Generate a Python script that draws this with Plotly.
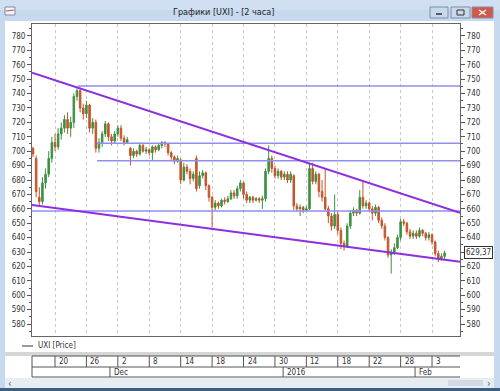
import plotly.graph_objects as go

W, H = 500, 391

# ---------------- data ----------------
bar_index = list(range(132))
opens = [702,695,668,665,678,684,695,706,703,712,716,722,716,720,738,742,730,726,732,716,
         720,702,706,712,719,710,707,712,716,709,706,702,697,700,698,704,700,701,699,703,
         701,704,706,705,699,696,693,694,680,689,686,681,695,676,683,685,676,668,661,664,
         662,666,665,667,671,669,674,678,670,666,668,666,667,666,667,686,695,688,683,686,
         682,684,680,683,662,660,661,659,660,688,679,684,672,668,660,655,648,656,645,636,
         634,648,657,659,657,668,662,664,660,657,661,652,648,640,628,630,633,640,651,650,
         644,641,643,641,645,643,640,642,637,629,625,627]
highs = [703,697,675,682,688,700,710,712,716,720,725,727,724,740,745,744,733,735,733,723,
         722,709,714,721,720,712,714,718,718,711,710,703,702,701,706,705,703,702,704,704,
         705,707,707,706,700,697,697,695,692,691,688,686,697,686,687,686,677,669,666,665,
         667,668,669,673,673,676,680,679,672,669,669,668,668,669,688,704,697,690,688,687,
         686,686,686,684,664,663,662,662,692,692,686,685,680,688,662,657,670,658,647,638,
         650,659,661,660,673,679,666,665,662,663,662,654,650,641,632,636,642,653,653,651,
         646,645,645,647,646,644,644,643,638,631,629,631]
lows = [696,668,662,663,674,682,692,700,701,708,713,712,710,716,735,727,722,723,713,712,
        699,699,703,710,707,704,705,710,707,704,705,690,695,696,697,699,698,697,694,699,
        700,702,703,697,694,691,692,677,679,684,677,679,672,674,681,673,665,647,659,660,
        661,663,664,666,667,667,672,667,664,664,664,665,664,660,665,684,685,681,681,680,
        680,678,678,659,658,655,657,658,659,677,677,668,665,658,650,645,646,642,632,631,
        633,646,655,655,656,660,660,658,652,655,650,646,638,626,615,628,632,638,648,642,
        639,639,639,640,641,638,638,635,627,623,624,625]
closes = [698,672,665,678,684,695,706,703,712,716,722,716,720,738,742,730,726,732,716,720,
          702,706,712,719,710,707,712,716,709,706,708,697,700,698,704,700,701,699,703,701,
          704,706,705,699,696,693,695,680,689,686,681,684,674,683,685,676,668,661,664,662,
          666,665,667,671,669,674,678,670,666,668,666,667,666,667,686,695,688,683,686,682,
          684,680,684,662,660,661,659,660,688,679,684,672,668,660,655,648,656,645,636,634,
          648,657,659,657,668,662,664,660,657,661,652,648,640,628,630,633,640,651,650,644,
          641,643,641,645,643,640,642,637,629,625,627,629.37]

last_price = 629.37
last_label = "629,37"

# trend lines (bar index, price)
upper_trend_x = [-0.32, 135.9]
upper_trend_y = [754.5, 657.3]
lower_trend_x = [-0.32, 135.9]
lower_trend_y = [662.6, 623.2]

# horizontal levels: (price, start bar index)
level_prices = [745.3, 705.5, 693.3, 658.5]
level_starts = [14.3, 20.4, 20.4, -0.32]

# price axis ticks
price_ticks = list(range(580, 790, 10))

# date scale
day_tick_idx = [7, 17, 27, 37, 47, 57, 67, 77, 87, 97, 107, 117, 127]
day_tick_labels = ["20", "26", "2", "8", "14", "18", "24", "30", "12", "18", "22", "28", "3"]
month_idx = [24.5, 79.6, 121.6]
month_labels = ["Dec", "2016", "Feb"]

y_min, y_max = 571.7, 788.3
x_min, x_max = -0.32, 135.9

title_text = "Графики [UXI] - [2 часа]"
legend_text = "UXI [Price]"

# ---------------- layout helpers ----------------
ML, MR, MT, MB = 32, 40, 24, 55
PW = W - ML - MR
PH = H - MT - MB


def X(px):
    return (px - ML) / PW


def Y(py):
    return (H - MB - py) / PH


FONT = "Liberation Sans Narrow, DejaVu Sans Condensed, Liberation Sans, sans-serif"
GREEN = "#3d9140"
RED = "#c4552b"

fig = go.Figure()

fig.add_trace(go.Candlestick(
    x=bar_index, open=opens, high=highs, low=lows, close=closes,
    increasing=dict(line=dict(color=GREEN, width=1), fillcolor=GREEN),
    decreasing=dict(line=dict(color=RED, width=1), fillcolor=RED),
    whiskerwidth=0, hoverinfo="skip", showlegend=False,
))

for p, s in zip(level_prices, level_starts):
    fig.add_trace(go.Scatter(x=[s, x_max], y=[p, p], mode="lines",
                             line=dict(color="#8f8ff0", width=1.5),
                             hoverinfo="skip", showlegend=False))

for tx, ty in [(upper_trend_x, upper_trend_y), (lower_trend_x, lower_trend_y)]:
    fig.add_trace(go.Scatter(x=tx, y=ty, mode="lines",
                             line=dict(color="#8e2de2", width=2),
                             hoverinfo="skip", showlegend=False))

# invisible trace to activate right axis
fig.add_trace(go.Scatter(x=[bar_index[-1]], y=[closes[-1]], yaxis="y2", mode="markers",
                         marker=dict(opacity=0), hoverinfo="skip", showlegend=False))

axis_common = dict(
    range=[y_min, y_max], ticks="outside", ticklen=4,
    tickcolor="#555", showgrid=False, zeroline=False,
    tickfont=dict(family=FONT, size=8, color="#333"),
    minor=dict(dtick=5, tick0=0, ticks="outside", ticklen=2, tickcolor="#555", showgrid=False),
    showline=True, linecolor="#666", linewidth=1,
)

# right axis: the last-price box covers the label nearest to it
right_text = [("" if abs(v - last_price) < 5 else str(v)) for v in price_ticks]

fig.update_layout(
    width=W, height=H,
    margin=dict(l=ML, r=MR, t=MT, b=MB, pad=0),
    paper_bgcolor="#c6d9ee",
    plot_bgcolor="white",
    showlegend=False,
    xaxis=dict(range=[x_min, x_max], tickvals=day_tick_idx, showticklabels=False,
               ticks="", showgrid=True, gridcolor="#c8c8c8", griddash="dot",
               gridwidth=1, zeroline=False, showline=True, mirror=True,
               linecolor="#666", linewidth=1, rangeslider=dict(visible=False)),
    yaxis=dict(side="left", tickvals=price_ticks, ticktext=[str(v) for v in price_ticks], **axis_common),
    yaxis2=dict(side="right", overlaying="y", tickvals=price_ticks, ticktext=right_text, **axis_common),
)

shapes = []
# client area (white)
shapes.append(dict(type="rect", xref="paper", yref="paper", x0=X(5), x1=X(494), y0=Y(378), y1=Y(21),
                   fillcolor="white", line=dict(width=0), layer="below"))
# title bar gradient-ish
shapes.append(dict(type="rect", xref="paper", yref="paper", x0=X(0), x1=X(500), y0=Y(10), y1=Y(0),
                   fillcolor="#d0e0f2", line=dict(width=0), layer="below"))
# separator bar
shapes.append(dict(type="rect", xref="paper", yref="paper", x0=X(5), x1=X(494), y0=Y(356), y1=Y(352),
                   fillcolor="#d6d6d6", line=dict(width=0), layer="below"))
# scrollbar
shapes.append(dict(type="rect", xref="paper", yref="paper", x0=X(5), x1=X(494), y0=Y(388), y1=Y(378),
                   fillcolor="#e8edf3", line=dict(width=0), layer="below"))
shapes.append(dict(type="rect", xref="paper", yref="paper", x0=X(448), x1=X(483), y0=Y(386), y1=Y(380),
                   fillcolor="#d3d9e1", line=dict(width=0), layer="below"))
# bottom border
shapes.append(dict(type="rect", xref="paper", yref="paper", x0=X(0), x1=X(500), y0=Y(391), y1=Y(388),
                   fillcolor="#3a5f80", line=dict(width=0), layer="below"))
# window icon
shapes.append(dict(type="rect", xref="paper", yref="paper", x0=X(5), x1=X(15), y0=Y(15), y1=Y(7),
                   fillcolor="#f4f4f4", line=dict(color="#7a8fa8", width=1)))
shapes.append(dict(type="line", xref="paper", yref="paper", x0=X(6), x1=X(14), y0=Y(11), y1=Y(10),
                   line=dict(color="#c44", width=1)))
# window buttons
for x0, x1, col in [(430, 448, "#c9d8ea"), (451, 470, "#c9d8ea"), (472, 493, "#d2584a")]:
    shapes.append(dict(type="rect", xref="paper", yref="paper", x0=X(x0), x1=X(x1), y0=Y(18), y1=Y(7),
                       fillcolor=col, line=dict(color="#7d8fa6", width=1)))
shapes.append(dict(type="line", xref="paper", yref="paper", x0=X(436), x1=X(442), y0=Y(14), y1=Y(14),
                   line=dict(color="#333", width=1.5)))
shapes.append(dict(type="rect", xref="paper", yref="paper", x0=X(457), x1=X(464), y0=Y(15), y1=Y(10),
                   line=dict(color="#333", width=1)))
shapes.append(dict(type="line", xref="paper", yref="paper", x0=X(479), x1=X(486), y0=Y(15), y1=Y(10),
                   line=dict(color="white", width=1.5)))
shapes.append(dict(type="line", xref="paper", yref="paper", x0=X(479), x1=X(486), y0=Y(10), y1=Y(15),
                   line=dict(color="white", width=1.5)))
# legend line
shapes.append(dict(type="line", xref="paper", yref="paper", x0=X(22), x1=X(33), y0=Y(346), y1=Y(346),
                   line=dict(color="#333", width=1)))
# date table
for py in [356, 367, 377]:
    shapes.append(dict(type="line", xref="paper", yref="paper", x0=X(32), x1=X(460), y0=Y(py), y1=Y(py),
                       line=dict(color="#555", width=1)))
shapes.append(dict(type="line", xref="paper", yref="paper", x0=X(32), x1=X(32), y0=Y(356), y1=Y(377),
                   line=dict(color="#555", width=1)))
for t in day_tick_idx:
    shapes.append(dict(type="line", xref="x", yref="paper", x0=t, x1=t, y0=Y(356), y1=Y(367),
                       line=dict(color="#555", width=1)))
for t in month_idx:
    shapes.append(dict(type="line", xref="x", yref="paper", x0=t, x1=t, y0=Y(367), y1=Y(377),
                       line=dict(color="#555", width=1)))

annotations = []
annotations.append(dict(text=title_text, xref="paper", yref="paper", x=X(223), y=Y(12),
                        xanchor="center", yanchor="middle", showarrow=False,
                        font=dict(family="DejaVu Sans Condensed, Liberation Sans, sans-serif", size=9, color="#222")))
annotations.append(dict(text=legend_text, xref="paper", yref="paper", x=X(36), y=Y(346),
                        xanchor="left", yanchor="middle", showarrow=False,
                        font=dict(family=FONT, size=8, color="#333")))
for t, lab in zip(day_tick_idx, day_tick_labels):
    annotations.append(dict(text=lab, xref="x", yref="paper", x=t, y=Y(361.5), xshift=2,
                            xanchor="left", yanchor="middle", showarrow=False,
                            font=dict(family=FONT, size=8, color="#333")))
for t, lab in zip(month_idx, month_labels):
    annotations.append(dict(text=lab, xref="x", yref="paper", x=t, y=Y(372), xshift=2,
                            xanchor="left", yanchor="middle", showarrow=False,
                            font=dict(family=FONT, size=8, color="#333")))
annotations.append(dict(text=last_label, xref="paper", yref="y", x=X(464), y=last_price,
                        xanchor="left", yanchor="middle", showarrow=False, bgcolor="white",
                        bordercolor="#333", borderwidth=1, borderpad=1,
                        font=dict(family=FONT, size=8, color="#333")))
annotations.append(dict(text="‹", xref="paper", yref="paper", x=X(10), y=Y(383),
                        xanchor="center", yanchor="middle", showarrow=False,
                        font=dict(family=FONT, size=10, color="#555")))
annotations.append(dict(text="›", xref="paper", yref="paper", x=X(489), y=Y(383),
                        xanchor="center", yanchor="middle", showarrow=False,
                        font=dict(family=FONT, size=10, color="#555")))

fig.update_layout(shapes=shapes, annotations=annotations)

fig.write_html("out.html")
